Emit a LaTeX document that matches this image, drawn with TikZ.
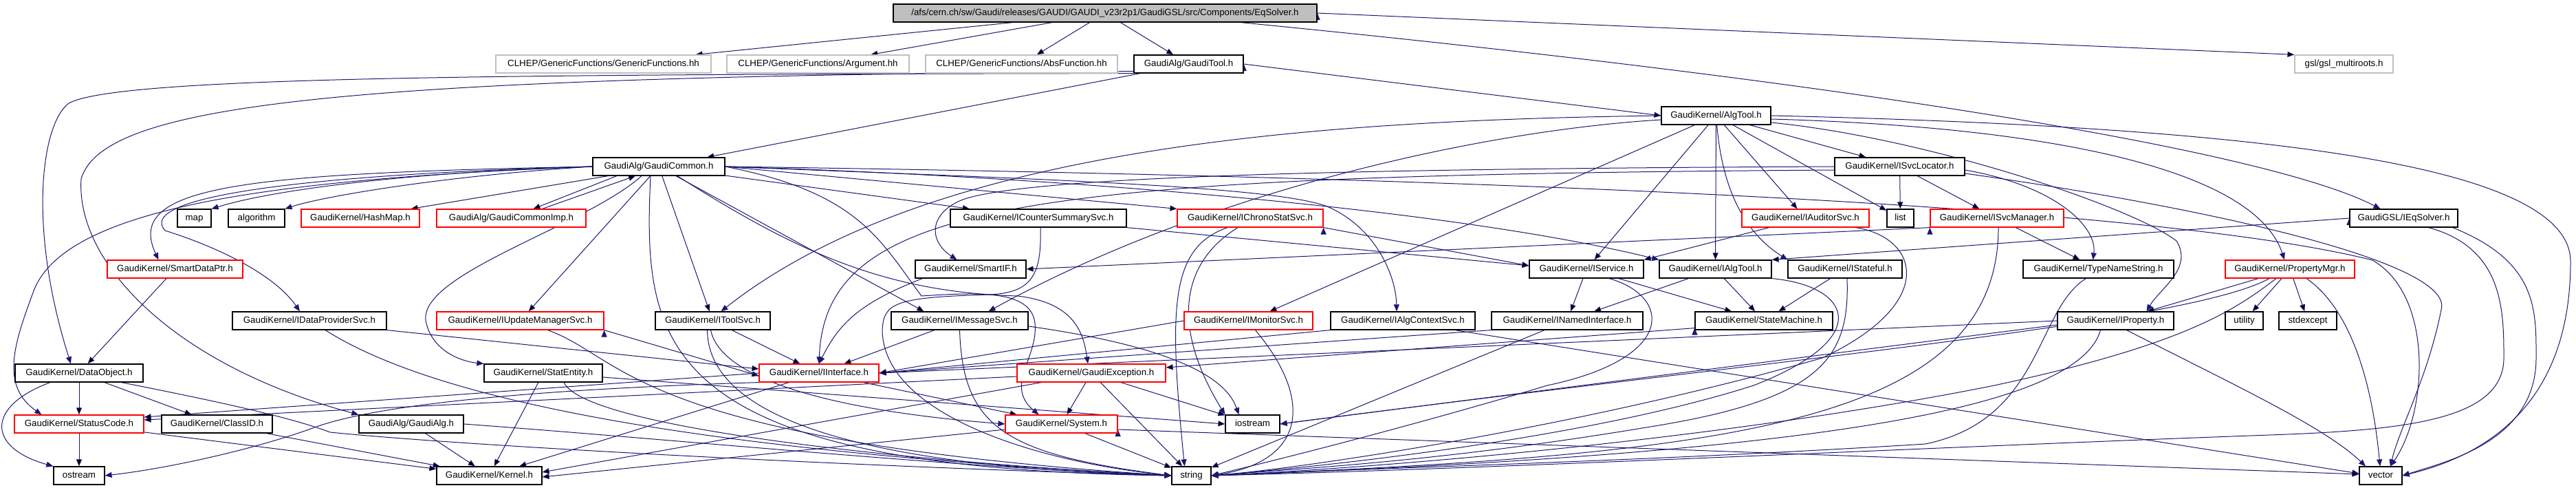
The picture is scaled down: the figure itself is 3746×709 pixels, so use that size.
\documentclass[tikz,border=0pt]{standalone}
\usepackage{fontspec}
\setmainfont{Liberation Sans}
\usetikzlibrary{arrows.meta,calc}
\definecolor{edgeblue}{HTML}{191970}
\definecolor{boxgray}{HTML}{BFBFBF}
\pgfdeclarelayer{edges}
\pgfsetlayers{edges,main}
\tikzset{
	hdr/.style={draw=black,line width=1.2pt,fill=white,minimum height=26pt,inner sep=0pt,
		text height=9.6pt,text depth=2.8pt,font=\fontsize{13.3pt}{16pt}\selectfont},
	trunc/.style={hdr,draw=red},
	ext/.style={hdr,draw=boxgray},
	rootfile/.style={hdr,fill=boxgray},
	dep/.style={draw=edgeblue,line width=1pt,-{Triangle[length=10pt,width=8pt]}},
}
\begin{document}
\begin{tikzpicture}[x=1pt,y=-1pt]
\useasboundingbox (0,0) rectangle (3746,709);

% headers
\node[rootfile,minimum width=616pt] (root) at (1607,19) {/afs/cern.ch/sw/Gaudi/releases/GAUDI/GAUDI\_v23r2p1/GaudiGSL/src/Components/EqSolver.h};

\node[ext,minimum width=313pt] (genfun) at (877.5,93) {CLHEP/GenericFunctions/GenericFunctions.hh};
\node[ext,minimum width=265pt] (argument) at (1189.5,93) {CLHEP/GenericFunctions/Argument.hh};
\node[ext,minimum width=279pt] (absfun) at (1485.5,93) {CLHEP/GenericFunctions/AbsFunction.hh};
\node[hdr,minimum width=159pt] (gauditool) at (1728.5,93) {GaudiAlg/GaudiTool.h};
\node[ext,minimum width=143pt] (gsl) at (3408.5,93) {gsl/gsl\_multiroots.h};

\node[hdr,minimum width=159pt] (algtool) at (2495.5,168) {GaudiKernel/AlgTool.h};

\node[hdr,minimum width=192pt] (gaudicommon) at (958,242) {GaudiAlg/GaudiCommon.h};
\node[hdr,minimum width=189pt] (svclocator) at (2762.5,242) {GaudiKernel/ISvcLocator.h};

\node[hdr,minimum width=49pt] (map) at (282.5,317) {map};
\node[hdr,minimum width=82pt] (algorithm) at (373,317) {algorithm};
\node[trunc,minimum width=172pt] (hashmap) at (524,317) {GaudiKernel/HashMap.h};
\node[trunc,minimum width=217pt] (commonimp) at (743.5,317) {GaudiAlg/GaudiCommonImp.h};
\node[hdr,minimum width=256pt] (countersvc) at (1510,317) {GaudiKernel/ICounterSummarySvc.h};
\node[trunc,minimum width=212pt] (chronosvc) at (1818,317) {GaudiKernel/IChronoStatSvc.h};
\node[trunc,minimum width=185pt] (auditorsvc) at (2625.5,317) {GaudiKernel/IAuditorSvc.h};
\node[hdr,minimum width=39pt] (list) at (2763.5,317) {list};
\node[trunc,minimum width=194pt] (svcmanager) at (2904,317) {GaudiKernel/ISvcManager.h};
\node[hdr,minimum width=157pt] (eqsolver) at (3495.5,317) {GaudiGSL/IEqSolver.h};

\node[trunc,minimum width=197pt] (smartdataptr) at (254.5,391) {GaudiKernel/SmartDataPtr.h};
\node[hdr,minimum width=161pt] (smartif) at (1411.5,391) {GaudiKernel/SmartIF.h};
\node[hdr,minimum width=166pt] (iservice) at (2307,391) {GaudiKernel/IService.h};
\node[hdr,minimum width=163pt] (ialgtool) at (2494.5,391) {GaudiKernel/IAlgTool.h};
\node[hdr,minimum width=166pt] (istateful) at (2683,391) {GaudiKernel/IStateful.h};
\node[hdr,minimum width=219pt] (typename) at (3051.5,391) {GaudiKernel/TypeNameString.h};
\node[trunc,minimum width=188pt] (propmgr) at (3330,391) {GaudiKernel/PropertyMgr.h};

\node[hdr,minimum width=224pt] (datasvc) at (450,466) {GaudiKernel/IDataProviderSvc.h};
\node[trunc,minimum width=243pt] (updatesvc) at (756.5,466) {GaudiKernel/IUpdateManagerSvc.h};
\node[hdr,minimum width=167pt] (toolsvc) at (1036.5,466) {GaudiKernel/IToolSvc.h};
\node[hdr,minimum width=199pt] (msgsvc) at (1395.5,466) {GaudiKernel/IMessageSvc.h};
\node[trunc,minimum width=187pt] (monitorsvc) at (1815.5,466) {GaudiKernel/IMonitorSvc.h};
\node[hdr,minimum width=210pt] (contextsvc) at (2040,466) {GaudiKernel/IAlgContextSvc.h};
\node[hdr,minimum width=220pt] (inamed) at (2279,466) {GaudiKernel/INamedInterface.h};
\node[hdr,minimum width=200pt] (statemachine) at (2565,466) {GaudiKernel/StateMachine.h};
\node[hdr,minimum width=169pt] (iproperty) at (3076.5,466) {GaudiKernel/IProperty.h};
\node[hdr,minimum width=55pt] (utility) at (3263.5,466) {utility};
\node[hdr,minimum width=84pt] (stdexcept) at (3356,466) {stdexcept};

\node[hdr,minimum width=186pt] (dataobject) at (115,542) {GaudiKernel/DataObject.h};
\node[hdr,minimum width=172pt] (statentity) at (790,542) {GaudiKernel/StatEntity.h};
\node[trunc,minimum width=174pt] (iinterface) at (1191,542) {GaudiKernel/IInterface.h};
\node[trunc,minimum width=216pt] (gaudiexc) at (1587,542) {GaudiKernel/GaudiException.h};

\node[trunc,minimum width=188pt] (statuscode) at (115,616) {GaudiKernel/StatusCode.h};
\node[hdr,minimum width=161pt] (classid) at (315.5,616) {GaudiKernel/ClassID.h};
\node[hdr,minimum width=152pt] (gaudialg) at (598,616) {GaudiAlg/GaudiAlg.h};
\node[trunc,minimum width=163pt] (system) at (1543.5,616) {GaudiKernel/System.h};
\node[hdr,minimum width=79pt] (iostream) at (1821.5,616) {iostream};

\node[hdr,minimum width=74pt] (ostream) at (115,691) {ostream};
\node[hdr,minimum width=153pt] (kernel) at (711.5,691) {GaudiKernel/Kernel.h};
\node[hdr,minimum width=57pt] (string) at (1732.5,691) {string};
\node[hdr,minimum width=62pt] (vector) at (3462,691) {vector};

\begin{pgfonlayer}{edges}
% EqSolver.h
\path[dep] (root) edge (genfun) edge (argument) edge (absfun) edge (gauditool)
	(root.east) edge (gsl.north west);
\draw[dep] ($(root.south)+(197,0)$) .. controls (2700,120) and (3300,220) .. ($(eqsolver.north)+(-34,0)$);

% GaudiTool.h
\path[dep] (gauditool.east) edge (algtool.west)
	(gauditool) edge (gaudicommon);
\draw[dep] (gauditool.south west) .. controls (700,108) and (170,112) .. (100,150) .. controls (60,180) and (40,330) .. ($(dataobject.north)+(-12,0)$);
\draw[dep] ($(gauditool.south west)+(0,-3)$) .. controls (500,112) and (150,150) .. (118,260) .. controls (110,380) and (250,530) .. (gaudialg.north west);

% AlgTool.h
\path[dep] (algtool) edge (svclocator) edge (list) edge (auditorsvc) edge (iservice) edge (ialgtool) edge (monitorsvc);
\draw[dep] (algtool) .. controls (2505,280) and (2540,340) .. (istateful.north west);
\draw[dep] (algtool.west) .. controls (1900,175) and (1350,215) .. ($(toolsvc.north)+(12,0)$);
\draw[dep] ($(algtool.west)+(0,6)$) .. controls (2150,190) and (1750,280) .. ($(msgsvc.north)+(42,0)$);
\draw[dep] ($(algtool.east)+(0,5)$) .. controls (3000,185) and (3280,250) .. ($(propmgr.north)+(-8,0)$);
\draw[dep] ($(algtool.east)+(0,10)$) .. controls (2800,200) and (3100,300) .. (3165,350) .. controls (3190,390) and (3140,420) .. ($(iproperty.north)+(45,0)$);
\draw[dep] (algtool.east) .. controls (3300,185) and (3738,240) .. (3738,380) .. controls (3738,600) and (3600,665) .. (vector.east);

% GaudiCommon.h
\path[dep] (gaudicommon) edge (updatesvc) edge (toolsvc) edge (countersvc)
	(gaudicommon) edge ($(msgsvc.north)+(-52,0)$)
	(gaudicommon.east) edge (chronosvc.north west)
	($(gaudicommon.south west)+(23,0)$) edge ($(hashmap.north east)+(-13,0)$)
	($(gaudicommon.south)+(-61,0)$) edge ($(commonimp.north)+(32,0)$)
	($(commonimp.north)+(45,0)$) edge ($(gaudicommon.south)+(-34,0)$);
\draw[dep] (gaudicommon.west) .. controls (600,250) and (400,275) .. (map.north east);
\draw[dep] (gaudicommon.west) .. controls (650,255) and (470,285) .. (algorithm.north east);
\draw[dep] (gaudicommon.west) .. controls (350,252) and (180,270) .. ($(smartdataptr.north)+(-24,0)$);
\draw[dep] (gaudicommon.west) .. controls (400,255) and (200,290) .. (240,335) .. controls (320,360) and (400,400) .. ($(datasvc.north)+(-14,0)$);
\draw[dep] (gaudicommon.west) .. controls (400,260) and (100,300) .. (50,420) .. controls (20,500) and (0,560) .. ($(statuscode.north west)+(40,0)$);
\draw[dep] ($(gaudicommon.south)+(-25,0)$) .. controls (850,330) and (600,400) .. (620,470) .. controls (630,510) and (670,525) .. (statentity.north west);
\draw[dep] ($(gaudicommon.south)+(-12,0)$) .. controls (935,500) and (950,680) .. (string.west);
\draw[dep] ($(gaudicommon.south)+(27,0)$) .. controls (1150,360) and (1280,425) .. (1480,430) .. controls (1560,440) and (1575,480) .. ($(gaudiexc.north)+(-5,0)$);
\draw[dep] (gaudicommon.east) .. controls (1250,280) and (1280,350) .. (1340,430) .. controls (1420,425) and (1500,420) .. (1505,470) .. controls (1510,520) and (1460,560) .. ($(system.north)+(-33,0)$);
\draw[dep] (gaudicommon.east) .. controls (1500,260) and (1850,270) .. (1930,300) .. controls (2000,330) and (2030,400) .. ($(contextsvc.north)+(-9,0)$);
\draw[dep] (gaudicommon.east) .. controls (1500,255) and (2100,300) .. (ialgtool.north west);
\draw[dep] (gaudicommon.east) .. controls (2000,255) and (3100,290) .. (3450,378) .. controls (3540,430) and (3530,600) .. ($(vector.north)+(14,0)$);

% ISvcLocator.h, ISvcManager.h, TypeNameString.h
\path[dep] (svclocator) edge (list) edge (svcmanager)
	(svcmanager.south west) edge (smartif.east)
	(svcmanager) edge (typename);
\draw[dep] ($(svclocator.east)+(0,5)$) .. controls (2990,270) and (3050,330) .. ($(typename.north)+(-8,0)$);
\draw[dep] (svclocator.west) .. controls (2000,245) and (1500,255) .. (1400,290) .. controls (1350,310) and (1350,350) .. ($(smartif.north)+(-20,0)$);
\draw[dep] ($(svclocator.west)+(0,5)$) .. controls (1500,255) and (1200,290) .. (iinterface.north);
\draw[dep] ($(svclocator.east)+(0,10)$) .. controls (3200,300) and (3570,380) .. (3550,450) .. controls (3530,550) and (3490,620) .. ($(vector.north)+(14,0)$);
\draw[dep] ($(svcmanager.south)+(2,0)$) .. controls (2906,620) and (2500,660) .. (string.east);
\draw[dep] ($(typename.south)+(-18,0)$) .. controls (2960,450) and (2970,610) .. (2800,645) .. controls (2400,670) and (2000,680) .. (string.east);

% PropertyMgr.h, IProperty.h, IEqSolver.h
\path[dep] (propmgr) edge (iproperty) edge (utility) edge (stdexcept)
	(iproperty.west) edge (iinterface.east)
	($(iproperty.west)+(0,6)$) edge (iostream.east)
	(eqsolver.west) edge (ialgtool.north east);
\draw[dep] ($(propmgr.south)+(24,0)$) .. controls (3420,450) and (3450,560) .. ($(vector.north)+(-1,0)$);
\draw[dep] ($(propmgr.south)+(-20,0)$) .. controls (3250,450) and (3180,500) .. (2900,560) .. controls (2500,640) and (2000,680) .. (string.east);
\draw[dep] ($(propmgr.south)+(-30,0)$) .. controls (3180,470) and (2600,520) .. (iostream.east);
\draw[dep] ($(iproperty.south)+(-22,0)$) .. controls (3020,600) and (2600,660) .. (string.east);
\draw[dep] ($(iproperty.south)+(16,0)$) .. controls (3250,560) and (3380,620) .. ($(vector.north)+(-22,0)$);
\draw[dep] ($(eqsolver.south)+(36,0)$) .. controls (3640,360) and (3641,450) .. (3641,520) .. controls (3641,610) and (3500,625) .. (3300,632) .. controls (2800,650) and (2200,680) .. (string.east);
\draw[dep] ($(eqsolver.south)+(71,0)$) .. controls (3690,380) and (3688,450) .. (3688,520) .. controls (3688,640) and (3560,670) .. (vector.east);

% service interfaces
\path[dep] (countersvc.south east) edge ($(iservice.west)+(0,-5)$)
	(chronosvc.south east) edge ($(iservice.west)+(0,-5)$)
	(auditorsvc) edge (iservice.north east);
\draw[dep] ($(countersvc.south)+(3,0)$) .. controls (1515,400) and (1500,425) .. (1440,428) .. controls (1300,432) and (1285,440) .. (1283,480) .. controls (1285,600) and (1500,670) .. (string.west);
\draw[dep] ($(chronosvc.south)+(-33,0)$) .. controls (1700,360) and (1700,450) .. ($(string.north)+(-10,0)$);
\draw[dep] ($(chronosvc.south)+(-18,0)$) .. controls (1720,380) and (1700,470) .. (iostream.north west);
\draw[dep] ($(auditorsvc.south east)+(-20,0)$) .. controls (2790,345) and (2820,440) .. (2650,520) .. controls (2300,620) and (1900,680) .. (string.east);

\path[dep] (iservice) edge (inamed) edge (statemachine)
	(ialgtool) edge (inamed) edge (statemachine)
	(istateful) edge (statemachine)
	(inamed) edge (string)
	(inamed.south west) edge (iinterface.east)
	(contextsvc.south west) edge (iinterface.east)
	($(contextsvc.south east)+(-30,0)$) edge ($(vector.west)+(0,-3)$)
	(monitorsvc.west) edge (iinterface.east)
	($(statemachine.south west)+(0,-3)$) edge ($(gaudiexc.east)+(0,-8)$);
\draw[dep] ($(iservice.south)+(33,0)$) .. controls (2430,430) and (2440,520) .. (2250,560) .. controls (2050,620) and (1850,670) .. (string.east);
\draw[dep] (ialgtool.south east) .. controls (2690,415) and (2730,490) .. (2550,560) .. controls (2300,640) and (1900,680) .. (string.east);
\draw[dep] ($(istateful.south)+(3,0)$) .. controls (2690,520) and (2650,580) .. (2400,620) .. controls (2100,670) and (1900,680) .. (string.east);
\draw[dep] ($(monitorsvc.south)+(10,0)$) .. controls (1910,580) and (1900,670) .. (string.east);

\path[dep] (toolsvc) edge (iinterface)
	(msgsvc) edge (iinterface)
	(datasvc.south east) edge ($(iinterface.west)+(0,-6)$)
	(updatesvc.south east) edge ($(iinterface.west)+(0,4)$);
\draw[dep] ($(toolsvc.south)+(-3,0)$) .. controls (1050,560) and (1250,600) .. (system.west);
\draw[dep] ($(toolsvc.south)+(-8,0)$) .. controls (1030,620) and (1300,680) .. (string.west);
\draw[dep] (msgsvc.south) .. controls (1400,620) and (1460,660) .. (string.west);
\draw[dep] ($(msgsvc.east)+(0,8)$) .. controls (1680,500) and (1780,540) .. ($(iostream.north)+(-20,0)$);
\draw[dep] ($(datasvc.south)+(23,0)$) .. controls (600,560) and (900,650) .. (string.west);
\draw[dep] ($(updatesvc.south)+(40,0)$) .. controls (910,520) and (920,640) .. (string.west);
\draw[dep] ($(smartif.south)+(-70,0)$) .. controls (1250,440) and (1220,470) .. (iinterface.north);

% lower headers
\path[dep] (smartdataptr) edge (dataobject)
	(dataobject) edge (statuscode) edge (classid)
	(statuscode) edge (ostream) edge (kernel)
	(classid) edge (kernel)
	(gaudialg) edge (kernel)
	(statentity) edge (kernel)
	($(statentity.east)+(0,6)$) edge (iostream.west)
	(iinterface) edge (kernel) edge (system)
	(iinterface.west) edge ($(statuscode.east)+(0,-10)$)
	(gaudiexc) edge (system) edge (string) edge (iostream)
	($(gaudiexc.west)+(0,5)$) edge ($(statuscode.east)+(0,-6)$)
	($(gaudiexc.south west)+(36,0)$) edge ($(kernel.east)+(0,-5)$)
	(system) edge (string)
	($(system.west)+(0,8)$) edge ($(kernel.east)+(0,2)$)
	($(system.east)+(0,8)$) edge ($(vector.west)+(0,-2)$);
\draw[dep] ($(dataobject.south)+(-42,0)$) .. controls (-20,590) and (-20,650) .. (ostream.north west);
\draw[dep] ($(dataobject.south east)+(-32,0)$) .. controls (300,580) and (420,605) .. (480,628) .. controls (700,650) and (1300,680) .. (string.west);
\draw[dep] (gaudialg.east) .. controls (1000,640) and (1400,680) .. (string.west);
\draw[dep] ($(statentity.south)+(30,0)$) .. controls (850,620) and (1300,670) .. (string.west);
\draw[dep] (iinterface.south west) .. controls (800,565) and (560,585) .. (460,620) .. controls (380,650) and (250,680) .. (ostream.east);
\end{pgfonlayer}
\end{tikzpicture}
\end{document}
